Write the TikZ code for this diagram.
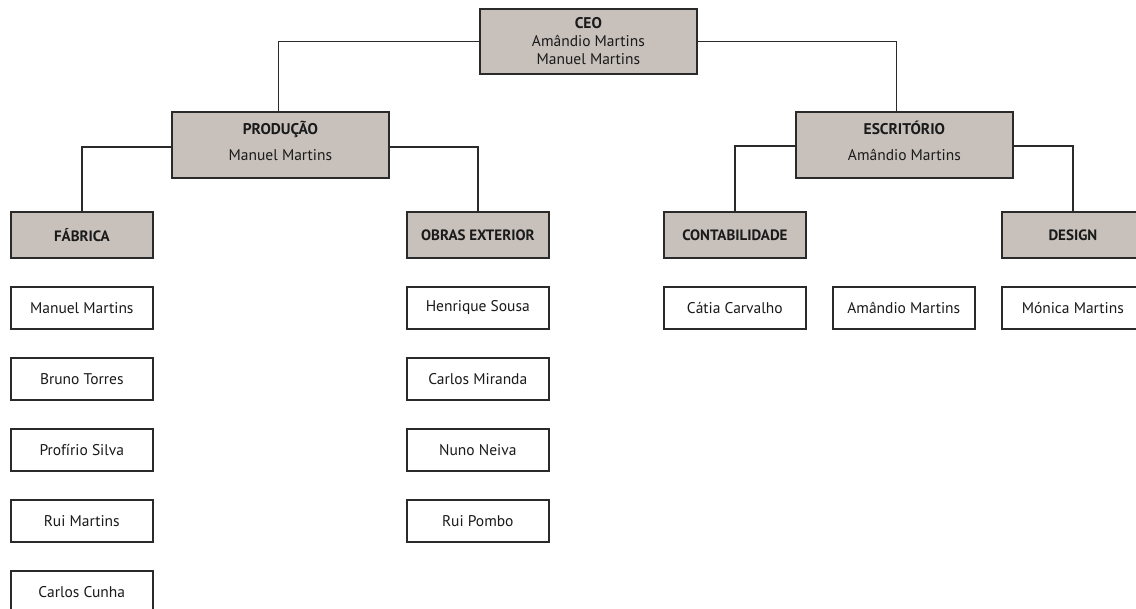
\documentclass[tikz,border=0pt]{standalone}
\usepackage{fontspec}
\setmainfont{PT Sans}
\definecolor{boxfill}{HTML}{C7C0BB}
\definecolor{ink}{HTML}{2A2A2A}
\definecolor{txt}{HTML}{1A1A1A}
\begin{document}
\begin{tikzpicture}[x=1pt,y=-1pt,
  head/.style={draw=ink, line width=1.8pt, fill=boxfill, minimum width=217pt, minimum height=66pt, anchor=north west, inner sep=0pt, align=center, text=txt, font=\fontsize{15.5}{18}\selectfont},
  sub/.style={draw=ink, line width=1.8pt, fill=boxfill, minimum width=142pt, minimum height=46pt, anchor=north west, inner sep=0pt, text=txt, font=\bfseries\fontsize{15}{17}\selectfont},
  person/.style={draw=ink, line width=1.6pt, fill=white, minimum width=142pt, minimum height=42pt, anchor=north west, inner sep=0pt, text=txt, font=\fontsize{15.5}{17}\selectfont},
  link/.style={draw=ink, line width=1.5pt}]
\useasboundingbox (0,0) rectangle (1136,609);
\clip (0,0) rectangle (1136,609);
\fill[white] (0,0) rectangle (1136,609);

% head boxes
\node[head, minimum height=65pt] (ceo) at (479,8) {\textbf{CEO}\\Amândio Martins\\Manuel Martins};
\node[head, text depth=8pt] (prod) at (171,111) {\textbf{PRODUÇÃO}\\[8pt]Manuel Martins};
\node[head, text depth=8pt] (esc) at (795,111) {\textbf{ESCRITÓRIO}\\[8pt]Amândio Martins};

% sub-department boxes
\node[sub] (fab) at (10,211) {FÁBRICA};
\node[sub] (obras) at (406,211) {OBRAS EXTERIOR};
\node[sub] (cont) at (663,211) {CONTABILIDADE};
\node[sub] (des) at (1001,211) {DESIGN};

% people
\node[person] (p1) at (10,286) {Manuel Martins};
\node[person] (p2) at (10,357) {Bruno Torres};
\node[person] (p3) at (10,428) {Profírio Silva};
\node[person] (p4) at (10,499) {Rui Martins};
\node[person] (p5) at (10,570) {Carlos Cunha};
\node[person] (o1) at (406,286) {Henrique Sousa};
\node[person] (o2) at (406,357) {Carlos Miranda};
\node[person] (o3) at (406,428) {Nuno Neiva};
\node[person] (o4) at (406,499) {Rui Pombo};
\node[person] (c1) at (663,286) {Cátia Carvalho};
\node[person] (c2) at (832,286) {Amândio Martins};
\node[person] (d1) at (1001,286) {Mónica Martins};

% connectors
\draw[link] (ceo.west) -| ([xshift=-2pt]prod.north);
\draw[link] (ceo.east) -| ([xshift=-8pt]esc.north);
\draw[link] ([yshift=-2pt]prod.west) -| (fab.north);
\draw[link] ([yshift=-2pt]prod.east) -| (obras.north);
\draw[link] ([yshift=-1pt]esc.west) -| (cont.north);
\draw[link] ([yshift=-1pt]esc.east) -| (des.north);
\end{tikzpicture}
\end{document}
